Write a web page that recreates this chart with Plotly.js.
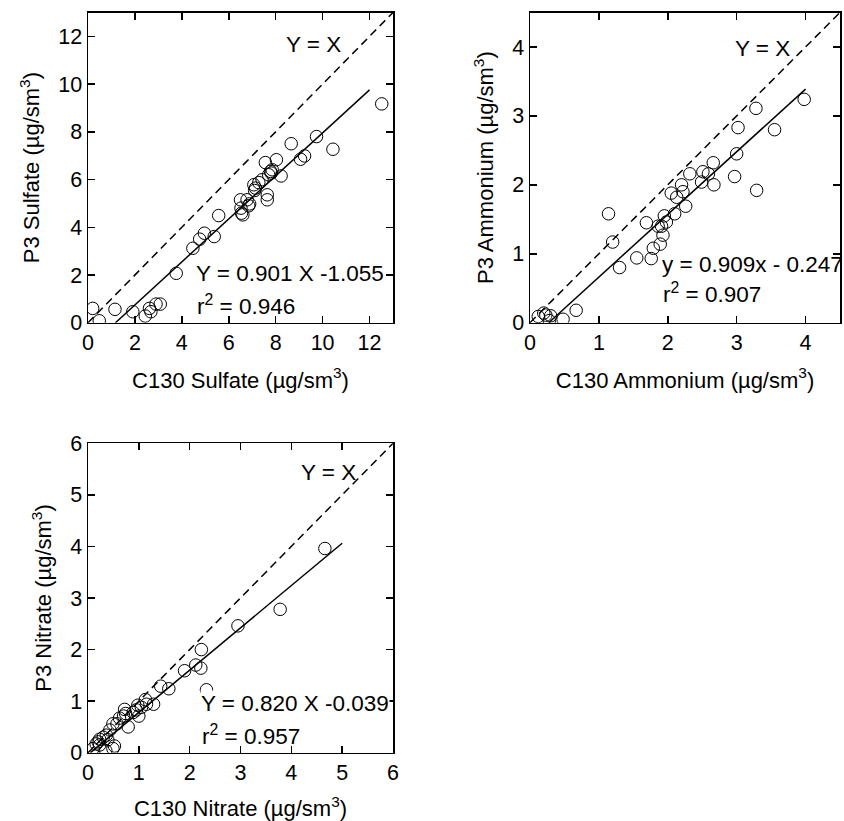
<!DOCTYPE html>
<html>
<head>
<meta charset="utf-8">
<script src="https://cdn.plot.ly/plotly-3.0.1.min.js"></script>
<style>html,body{margin:0;padding:0;background:#fff;}</style>
</head>
<body>
<div id="chart" style="width:844px;height:821px;"></div>
<script>
// ---- Sulfate panel ----
const sulfateX = [0.2,0.48,1.15,1.91,2.44,2.62,2.68,2.9,3.08,3.76,4.47,4.76,4.96,5.38,5.57,6.5,6.52,6.54,6.6,6.78,6.85,6.89,7.07,7.1,7.14,7.28,7.42,7.56,7.64,7.64,7.7,7.78,7.85,7.81,8.03,8.23,8.66,9.06,9.23,9.74,10.44,12.52];
const sulfateY = [0.6,0.08,0.56,0.46,0.28,0.6,0.46,0.78,0.78,2.07,3.12,3.5,3.75,3.61,4.49,5.15,4.8,4.59,4.52,5.15,4.9,4.98,5.78,5.54,5.64,5.87,5.99,6.71,5.36,5.15,6.2,6.34,6.41,6.27,6.83,6.15,7.5,6.85,6.99,7.8,7.27,9.17];
const sulfateFit = {slope: 0.901, intercept: -1.055, xEnd: 12.0, r2: 0.946};

// ---- Ammonium panel ----
const ammoniumX = [0.12,0.2,0.23,0.28,0.3,0.48,0.67,1.14,1.2,1.3,1.55,1.69,1.76,1.79,1.89,1.86,1.91,1.93,1.95,1.98,2.05,2.1,2.13,2.2,2.22,2.26,2.32,2.49,2.51,2.59,2.66,2.67,2.97,3.0,3.02,3.28,3.29,3.55,3.98];
const ammoniumY = [0.09,0.14,0.11,0.03,0.1,0.05,0.18,1.58,1.17,0.8,0.94,1.45,0.93,1.08,1.14,1.4,1.4,1.27,1.55,1.46,1.88,1.58,1.82,2.0,1.9,1.69,2.16,2.04,2.19,2.16,2.32,2.0,2.12,2.45,2.83,3.11,1.92,2.8,3.24];
const ammoniumFit = {slope: 0.909, intercept: -0.247, xEnd: 4.0, r2: 0.907};

// ---- Nitrate panel ----
const nitrateX = [4.66,3.78,2.95,2.23,2.22,2.12,1.9,1.59,1.43,2.33,1.29,1.13,1.15,1.05,0.98,0.95,1.0,0.89,0.79,0.74,0.72,0.70,0.62,0.57,0.49,0.43,0.36,0.30,0.23,0.2,0.16,0.1,0.35,0.49,0.52,0.23,0.39];
const nitrateY = [3.96,2.78,2.46,2.0,1.64,1.7,1.59,1.24,1.29,1.22,0.94,1.03,0.94,0.88,0.92,0.83,0.71,0.78,0.5,0.76,0.84,0.71,0.67,0.56,0.56,0.44,0.34,0.30,0.26,0.21,0.17,0.08,0.04,0.08,0.13,0.15,0.25];
const nitrateFit = {slope: 0.820, intercept: -0.039, xEnd: 5.0, r2: 0.957};

const xTitles = ["C130 Sulfate (µg/sm<sup>3</sup>)", "C130 Ammonium (µg/sm<sup>3</sup>)", "C130 Nitrate (µg/sm<sup>3</sup>)"];
const yTitles = ["P3 Sulfate (µg/sm<sup>3</sup>)", "P3 Ammonium (µg/sm<sup>3</sup>)", "P3 Nitrate (µg/sm<sup>3</sup>)"];

const FONT = "Liberation Sans, Arial, Helvetica, sans-serif";
const traces = [];
const annotations = [];

function addPanel(idx, xs, ys, fit, maxV, eqText, eqPos, r2Pos, yxPos, bg) {
  const xa = idx === 1 ? 'x' : 'x' + idx;
  const ya = idx === 1 ? 'y' : 'y' + idx;
  traces.push({x: [0, maxV], y: [0, maxV], xaxis: xa, yaxis: ya, mode: 'lines',
    line: {color: 'black', width: 1.5, dash: '8px,5px'}, hoverinfo: 'skip'});
  const x0 = -fit.intercept / fit.slope;
  traces.push({x: [x0, fit.xEnd], y: [0, fit.slope * fit.xEnd + fit.intercept], xaxis: xa, yaxis: ya,
    mode: 'lines', line: {color: 'black', width: 1.5}});
  traces.push({x: xs, y: ys, xaxis: xa, yaxis: ya, mode: 'markers',
    marker: {symbol: 'circle-open', size: 12.5, color: 'black', line: {width: 1, color: 'black'}}});
  const f = {family: FONT, size: 22.5, color: 'black'};
  annotations.push({xref: xa, yref: ya, x: yxPos[0], y: yxPos[1], text: 'Y = X', showarrow: false, font: f, xanchor: 'center', yanchor: 'middle'});
  annotations.push({xref: xa, yref: ya, x: eqPos[0], y: eqPos[1], text: eqText, showarrow: false, font: f, xanchor: 'left', yanchor: 'middle', bgcolor: bg ? 'white' : 'rgba(0,0,0,0)', borderpad: 0});
  annotations.push({xref: xa, yref: ya, x: r2Pos[0], y: r2Pos[1], text: 'r<sup>2</sup> = ' + fit.r2.toFixed(3), showarrow: false, font: f, xanchor: 'left', yanchor: 'middle'});
}

addPanel(1, sulfateX, sulfateY, sulfateFit, 13, 'Y = 0.901 X -1.055', [4.55, 2.07], [4.55, 0.74], [9.6, 11.66], false);
addPanel(2, ammoniumX, ammoniumY, ammoniumFit, 4.5, 'y = 0.909x - 0.247', [1.9, 0.84], [1.9, 0.43], [3.38, 3.98], false);
addPanel(3, nitrateX, nitrateY, nitrateFit, 6, 'Y = 0.820 X -0.039', [2.2, 0.96], [2.2, 0.34], [4.73, 5.43], true);

function axis(domain, range, dtick, title, anchor, standoff) {
  return {
    domain: domain, range: range, dtick: dtick, tick0: 0, anchor: anchor,
    showgrid: false, zeroline: false, showline: true, linecolor: 'black', linewidth: 1.5,
    mirror: 'ticks', ticks: 'inside', ticklen: 7, tickwidth: 1.5, tickcolor: 'black',
    tickfont: {family: FONT, size: 21.5, color: 'black'},
    title: {text: title, font: {family: FONT, size: 22, color: 'black'}, standoff: standoff},
    fixedrange: true
  };
}

const layout = {
  width: 844, height: 821, autosize: false,
  margin: {l: 0, r: 0, t: 0, b: 0},
  paper_bgcolor: 'white', plot_bgcolor: 'white',
  showlegend: false,
  font: {family: FONT, color: 'black'},
  xaxis: axis([88/844, 393/844], [0, 13], 2, xTitles[0], 'y', 18),
  yaxis: axis([1 - 322.7/821, 1 - 12.5/821], [0, 13], 2, yTitles[0], 'x', 12),
  xaxis2: axis([530/844, 840/844], [0, 4.5], 1, xTitles[1], 'y2', 18),
  yaxis2: axis([1 - 322.7/821, 1 - 12.5/821], [0, 4.5], 1, yTitles[1], 'x2', 12),
  xaxis3: axis([88/844, 393/844], [0, 6], 1, xTitles[2], 'y3', 18),
  yaxis3: axis([1 - 752.7/821, 1 - 443.3/821], [0, 6], 1, yTitles[2], 'x3', 12),
  annotations: annotations
};

Plotly.newPlot('chart', traces, layout, {displayModeBar: false, staticPlot: true});
</script>
</body>
</html>
